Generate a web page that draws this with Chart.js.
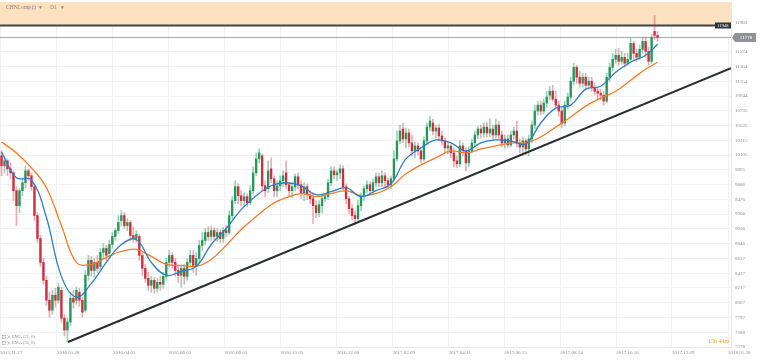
<!DOCTYPE html>
<html>
<head>
<meta charset="utf-8">
<script src="https://cdn.jsdelivr.net/npm/chart.js@4.4.1/dist/chart.umd.min.js"></script>
<style>
html, body { margin: 0; padding: 0; background: #fff; }
#wrap { width: 760px; height: 360px; }
</style>
</head>
<body>
<div id="wrap"><canvas id="chart1" width="760" height="360"></canvas></div>
<script>
// daily candles, one slot per candle
var opens = [10095,9953,10024,9911,9854,9600,9387,9600,9713,9882,
  9812,9656,9246,8920,8581,8326,8043,7901,8114,8043,
  8184,7788,7619,7732,8071,8043,8156,8043,7901,8397,
  8609,8467,8581,8524,8722,8779,8708,8835,8949,9033,
  9175,9246,9104,9147,8963,8920,8949,8680,8496,8354,
  8255,8326,8213,8298,8269,8382,8581,8680,8581,8467,
  8397,8496,8382,8581,8680,8538,8637,8821,8892,9005,
  8949,9033,8949,9005,8920,9033,9005,9246,9458,9656,
  9529,9458,9515,9430,9600,9854,10052,10095,9670,9628,
  9911,9769,9600,9670,9741,9854,9684,9600,9656,9798,
  9684,9571,9656,9543,9486,9387,9288,9387,9486,9515,
  9713,9882,9826,9854,9911,9656,9486,9345,9246,9203,
  9387,9529,9628,9684,9600,9713,9798,9713,9812,9741,
  9684,9769,10052,10307,10477,10335,10420,10279,10165,10236,
  10165,10052,10307,10505,10562,10448,10491,10378,10307,10208,
  10236,10137,10024,9982,10236,10165,9996,10165,10279,10392,
  10477,10420,10505,10420,10477,10392,10533,10392,10279,10335,
  10250,10392,10448,10279,10222,10307,10194,10335,10533,10732,
  10816,10732,10845,10958,11014,10901,10816,10732,10562,10816,
  10930,11156,11354,11213,11128,11213,11099,11156,11071,11014,
  10986,10958,10873,11213,11354,11467,11524,11439,11496,11411,
  11467,11694,11552,11496,11609,11722,11580,11439,11864,11807];
var highs = [10165,10081,10052,9996,9882,9656,9628,9769,9953,9911,
  9854,9684,9288,8963,8637,8382,8156,8184,8213,8283,
  8227,7845,7788,8156,8184,8227,8213,8085,8467,8680,
  8666,8637,8680,8779,8850,8821,8892,9005,9062,9246,
  9316,9288,9203,9175,9090,9033,8977,8722,8552,8439,
  8382,8368,8354,8382,8439,8637,8750,8722,8637,8524,
  8538,8552,8637,8750,8750,8722,8892,9005,9062,9090,
  9090,9076,9062,9048,9076,9104,9316,9515,9741,9699,
  9600,9571,9557,9670,9939,10137,10194,10123,9741,10024,
  10066,9812,9741,9812,9882,10024,9713,9699,9840,9854,
  9741,9713,9699,9600,9571,9458,9458,9543,9557,9769,
  9939,9939,9896,9967,9953,9699,9515,9401,9316,9458,
  9571,9670,9741,9727,9769,9854,9854,9882,9854,9783,
  9812,10165,10448,10533,10562,10491,10477,10392,10293,10279,
  10194,10364,10562,10661,10618,10533,10548,10448,10349,10279,
  10250,10208,10095,10307,10279,10208,10222,10335,10448,10519,
  10533,10562,10576,10618,10533,10618,10590,10448,10392,10392,
  10448,10505,10590,10335,10364,10335,10392,10590,10816,10873,
  10873,10901,11014,11085,11099,11014,10873,10788,10873,10986,
  11213,11411,11382,11298,11269,11269,11213,11213,11128,11071,
  11043,11014,11269,11411,11552,11609,11623,11580,11552,11552,
  11764,11722,11609,11665,11779,11779,11637,11821,12090,11864];
var lows = [9812,9854,9812,9769,9458,9104,9288,9529,9642,9741,
  9600,9175,8864,8524,8269,7972,7802,7845,7944,8000,
  7732,7534,7449,7675,7930,7986,7958,7802,7873,8326,
  8382,8368,8439,8467,8637,8609,8651,8779,8892,8991,
  9104,9062,9033,8892,8864,8864,8609,8397,8298,8184,
  8156,8142,8156,8184,8213,8326,8524,8496,8382,8298,
  8227,8269,8326,8524,8439,8397,8581,8750,8835,8892,
  8892,8892,8878,8864,8864,8949,8977,9203,9415,9415,
  9387,9401,9373,9401,9557,9812,9996,9600,9515,9571,
  9713,9515,9515,9600,9656,9628,9515,9500,9600,9628,
  9486,9458,9472,9415,9132,9218,9232,9288,9444,9472,
  9670,9769,9741,9769,9600,9415,9274,9189,9118,9147,
  9316,9458,9571,9543,9543,9656,9656,9656,9656,9628,
  9628,9741,10024,10265,10279,10208,10222,10095,10066,10109,
  9996,10024,10250,10448,10392,10349,10307,10250,10137,10123,
  10066,9939,9925,9939,10095,9882,9939,10137,10222,10335,
  10349,10364,10364,10364,10335,10349,10335,10222,10208,10208,
  10222,10335,10222,10137,10137,10109,10095,10279,10477,10675,
  10675,10689,10788,10887,10873,10774,10661,10491,10519,10760,
  10873,11099,11128,11071,11071,11043,11043,11014,10958,10901,
  10887,10816,10845,11156,11298,11411,11382,11397,11354,11382,
  11439,11467,11439,11467,11552,11496,11382,11411,11750,11722];
var closes = [9953,10024,9911,9854,9600,9387,9600,9713,9882,9812,
  9656,9246,8920,8581,8326,8043,7901,8114,8043,8227,
  7788,7619,7732,8071,8015,8184,8043,7873,8397,8609,
  8467,8581,8496,8722,8779,8680,8835,8949,9033,9147,
  9246,9104,9147,8963,8920,8977,8680,8496,8354,8255,
  8326,8213,8298,8269,8382,8581,8680,8581,8467,8397,
  8496,8382,8581,8680,8538,8637,8821,8892,9005,8949,
  9033,8949,9005,8920,9033,9005,9246,9458,9656,9529,
  9458,9515,9430,9600,9854,10052,10137,9670,9600,9882,
  9769,9600,9670,9741,9812,9684,9600,9656,9798,9684,
  9571,9656,9543,9486,9387,9288,9401,9486,9515,9713,
  9882,9826,9854,9911,9656,9486,9345,9246,9203,9387,
  9529,9628,9684,9600,9713,9798,9713,9812,9741,9684,
  9769,10052,10307,10448,10335,10420,10279,10165,10236,10165,
  10052,10307,10505,10590,10448,10491,10378,10307,10208,10236,
  10137,10024,9982,10236,10165,9996,10165,10279,10392,10477,
  10420,10505,10420,10477,10392,10533,10392,10279,10335,10250,
  10392,10448,10279,10222,10307,10194,10335,10533,10732,10816,
  10732,10845,10930,11014,10901,10816,10732,10562,10816,10930,
  11156,11354,11213,11128,11213,11099,11156,11071,11014,10986,
  10958,10873,11213,11354,11467,11524,11439,11496,11411,11467,
  11694,11552,11496,11609,11722,11580,11439,11779,11807,11778];

// moving averages every 5 candles
var emaAt = [0,5,10,15,20,25,30,35,40,45,50,55,60,65,70,75,80,85,90,95,
  100,105,110,115,120,125,130,135,140,145,150,155,160,165,170,175,180,185,190,195,
  200,205,210,215,219];
var ema21 = [10151,9783,9755,9218,8382,8085,8283,8581,8835,8906,
  8581,8397,8453,8524,8835,9062,9331,9529,9670,9713,
  9670,9543,9585,9642,9515,9600,9699,10052,10208,10321,
  10279,10165,10279,10321,10307,10265,10562,10774,10816,11043,
  11085,11283,11425,11524,11680];
var ema55 = [10293,10137,9925,9642,9104,8581,8552,8651,8736,8765,
  8666,8552,8538,8524,8623,8821,9048,9232,9401,9500,
  9557,9515,9557,9600,9529,9557,9656,9840,9967,10066,
  10165,10137,10194,10236,10279,10279,10364,10505,10647,10802,
  10915,11014,11170,11326,11425];

var dateLabels = ['2015.11.27','2016.01.28','2016.04.05','2016.06.03','2016.08.05','2016.10.05','2016.12.08',
  '2017.02.09','2017.04.11','2017.06.13','2017.08.14','2017.10.16','2017.12.09','2018.01.20'];
var dateTickAt = [-0.5,18.5,37.2,55.8,74.5,93.2,111.8,130.5,149.2,167.8,186.5,205.2,223.8,242.5];
var yTicks = [7378,7588,7797,8007,8217,8427,8637,8846,9056,9266,9476,9686,9895,10105,
  10315,10525,10735,10944,11154,11364,11574,11983];

var trendAt = [22.2, 243.5];
var trendVal = [7449, 11340];
var resistLevel = 11948;
var symbolName = 'CHNComp';
var timeFrame = 'D1';
var emaNames = ['EMA (21, 0)', 'EMA (55, 0)'];
var countdown = '15h 44m';

var lastPrice = closes[closes.length - 1];
var xMin = -0.5, xMax = 243.5;

var upCol = '#24985a', downCol = '#cf2d40';
var upWick = 'rgba(36,152,90,0.45)', downWick = 'rgba(207,45,64,0.4)';

var bodies = [], wicks = [], bodyCols = [], wickCols = [];
for (let i = 0; i < closes.length; i++) {
  bodies.push({ x: i, y: [opens[i], closes[i]] });
  wicks.push({ x: i, y: [lows[i], highs[i]] });
  var up = closes[i] >= opens[i];
  bodyCols.push(up ? upCol : downCol);
  wickCols.push(up ? upWick : downWick);
}
function pts(xs, ys) {
  var out = [];
  for (let i = 0; i < xs.length; i++) out.push({ x: xs[i], y: ys[i] });
  return out;
}
// drop the label half-height padding chart.js keeps at the ends of an axis
function noEdgePad(s) {
  s.paddingTop = 0; s.paddingBottom = 0; s.paddingLeft = 0; s.paddingRight = 0;
}

var serif = '"Liberation Serif", "DejaVu Serif", serif';

var extras = {
  id: 'extras',
  afterDraw: function (chart) {
    var ctx = chart.ctx, ys = chart.scales.y, a = chart.chartArea;
    ctx.save();
    ctx.textBaseline = 'middle';

    // symbol / timeframe in the band
    ctx.fillStyle = '#8a7f72';
    ctx.font = '5.5px ' + serif;
    ctx.fillText(symbolName, 6, 8);
    ctx.strokeStyle = '#9b9187';
    ctx.lineWidth = 0.6;
    ctx.strokeRect(32.5, 6, 3, 3);
    ctx.fillText('\u25BE', 39, 8);
    ctx.fillText(timeFrame, 50, 8);
    ctx.fillText('\u25BE', 61, 8);

    // resistance tag
    var ry = ys.getPixelForValue(resistLevel);
    ctx.fillStyle = '#2f3437';
    ctx.fillRect(a.right - 16, ry - 3, 16, 6);
    ctx.fillStyle = '#ffffff';
    ctx.font = '4.5px ' + serif;
    ctx.textAlign = 'center';
    ctx.fillText(String(resistLevel), a.right - 8, ry + 0.3);

    // last price tag
    var py = ys.getPixelForValue(lastPrice);
    ctx.fillStyle = '#8f9397';
    ctx.beginPath();
    ctx.moveTo(a.right + 1, py);
    ctx.lineTo(a.right + 4, py - 4.5);
    ctx.lineTo(a.right + 25, py - 4.5);
    ctx.lineTo(a.right + 25, py + 4.5);
    ctx.lineTo(a.right + 4, py + 4.5);
    ctx.closePath();
    ctx.fill();
    ctx.fillStyle = '#ffffff';
    ctx.font = '5px ' + serif;
    ctx.fillText(String(lastPrice), a.right + 15, py + 0.3);

    // countdown
    ctx.textAlign = 'left';
    ctx.fillStyle = '#f0a12e';
    ctx.font = '6px ' + serif;
    ctx.fillText(countdown, 708, 341);

    // indicator list bottom-left
    ctx.font = '4.5px ' + serif;
    for (let k = 0; k < emaNames.length; k++) {
      var ly = 337 + k * 6;
      ctx.strokeStyle = '#9a9a9a';
      ctx.lineWidth = 0.6;
      ctx.strokeRect(2.5, ly - 1.5, 3, 3);
      ctx.beginPath();
      ctx.moveTo(7.5, ly - 1.5); ctx.lineTo(10, ly + 1.5);
      ctx.moveTo(10, ly - 1.5); ctx.lineTo(7.5, ly + 1.5);
      ctx.stroke();
      ctx.fillStyle = '#8c8c8c';
      ctx.fillText(emaNames[k], 12, ly);
    }
    ctx.restore();
  }
};

Chart.defaults.font.family = serif;

new Chart(document.getElementById('chart1'), {
  type: 'line',
  data: {
    datasets: [
      {
        type: 'line', data: pts([xMin, xMax], [resistLevel, resistLevel]),
        borderColor: '#3f4346', borderWidth: 2, backgroundColor: '#fde2c1',
        fill: 'end', pointRadius: 0, order: 10
      },
      {
        type: 'line', data: pts([xMin, xMax], [lastPrice, lastPrice]),
        borderColor: '#a3a6a9', borderWidth: 1, fill: false, pointRadius: 0, order: 9
      },
      {
        type: 'bar', data: wicks, backgroundColor: wickCols, borderWidth: 0,
        barThickness: 1, grouped: false, order: 6
      },
      {
        type: 'bar', data: bodies, backgroundColor: bodyCols, borderWidth: 0,
        barThickness: 1.7, minBarLength: 1, grouped: false, order: 5
      },
      {
        type: 'line', data: pts(emaAt, ema55), borderColor: '#f27b2a', borderWidth: 1.3,
        tension: 0.4, pointRadius: 0, fill: false, order: 3
      },
      {
        type: 'line', data: pts(emaAt, ema21), borderColor: '#2f7dc2', borderWidth: 1.3,
        tension: 0.4, pointRadius: 0, fill: false, order: 2
      },
      {
        type: 'line', data: pts(trendAt, trendVal), borderColor: '#2a2d30', borderWidth: 2,
        pointRadius: 0, fill: false, order: 1
      }
    ]
  },
  options: {
    responsive: false,
    animation: false,
    events: [],
    layout: { padding: { top: 2, left: 0, right: 0, bottom: 0 } },
    plugins: { legend: { display: false }, tooltip: { enabled: false } },
    scales: {
      x: {
        type: 'linear', min: xMin, max: xMax, offset: false,
        afterBuildTicks: function (s) { s.ticks = dateTickAt.map(function (v) { return { value: v }; }); },
        afterFit: function (s) { s.height = 13; noEdgePad(s); },
        grid: { color: '#f1f1f1', drawTicks: false, offset: false },
        border: { color: '#e6e6e6' },
        ticks: {
          autoSkip: false, maxRotation: 0, minRotation: 0, align: 'start', padding: 3,
          color: '#8a8a8a', font: { size: 5 },
          callback: function (v, i) { return dateLabels[i]; }
        }
      },
      y: {
        type: 'linear', position: 'right', min: 7378, max: 12282,
        afterBuildTicks: function (s) { s.ticks = yTicks.map(function (v) { return { value: v }; }); },
        afterFit: function (s) { s.width = 29; noEdgePad(s); },
        grid: { color: '#f1f1f1', drawTicks: false },
        border: { color: '#e6e6e6' },
        ticks: {
          autoSkip: false, padding: 4, color: '#8a8a8a', font: { size: 5 },
          callback: function (v) { return String(v); }
        }
      }
    }
  },
  plugins: [extras]
});
</script>
</body>
</html>
